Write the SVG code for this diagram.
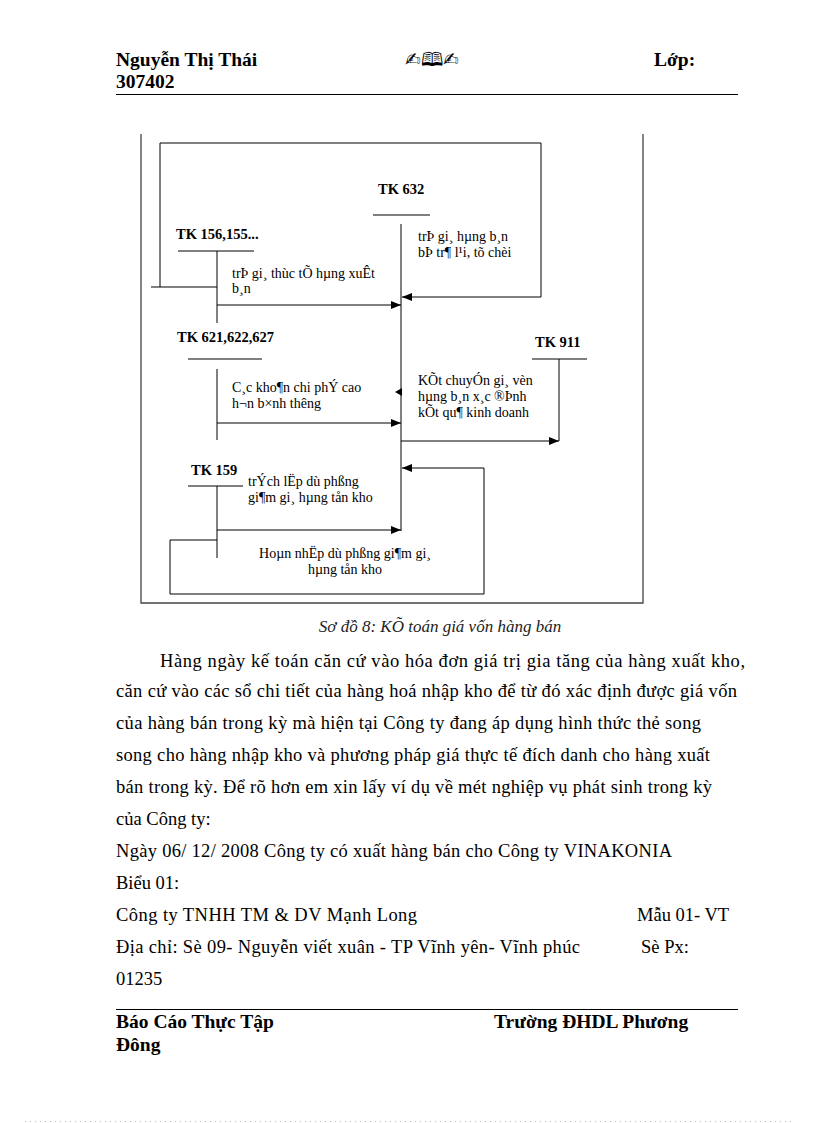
<svg xmlns="http://www.w3.org/2000/svg" width="816" height="1123" viewBox="0 0 816 1123">
<defs>
<marker id="ah" viewBox="0 0 10 8" refX="10" refY="4" markerWidth="10" markerHeight="8" markerUnits="userSpaceOnUse" orient="auto">
<path d="M0,0 L10,4 L0,8 z" fill="#000"/>
</marker>
<style>
.ln{fill:none;stroke:#000;stroke-width:1}
.fr{fill:none;stroke:#444;stroke-width:1.3}
.lb{font-family:"Liberation Serif",serif;font-weight:bold;font-size:14.5px;fill:#000}
.tx{font-family:"Liberation Serif",serif;font-size:14px;fill:#000}
.hd{font-family:"Liberation Serif",serif;font-weight:bold;font-size:19.5px;fill:#000}
.bd{font-family:"Liberation Serif",serif;font-size:18.5px;fill:#000}
.cap{font-family:"Liberation Serif",serif;font-style:italic;font-size:17px;fill:#222}
</style>
</defs>
<rect width="816" height="1123" fill="#fff"/>

<g id="header">
<text class="hd" x="116" y="66">Nguyễn Thị Thái</text>
<text class="hd" x="116" y="88">307402</text>
<text x="432" y="66" text-anchor="middle" font-family="DejaVu Sans,sans-serif" font-size="19" fill="#000">✍🕮✍</text>
<text class="hd" x="654" y="66">Lớp:</text>
<line x1="116" y1="94.5" x2="738" y2="94.5" stroke="#000" stroke-width="1"/>
</g>

<g id="frame">
<path class="fr" d="M141,134 V603 H643 V134"/>
</g>

<g id="connectors">
<line class="ln" x1="151" y1="287" x2="217" y2="287"/>
<path class="ln" d="M160,287 V143 H541 V297 H402" marker-end="url(#ah)"/>
<line class="ln" x1="217" y1="305" x2="401" y2="305" marker-end="url(#ah)"/>
<line class="ln" x1="217" y1="423" x2="401" y2="423" marker-end="url(#ah)"/>
<line class="ln" x1="401" y1="441" x2="559" y2="441" marker-end="url(#ah)"/>
<line class="ln" x1="217" y1="530" x2="401" y2="530" marker-end="url(#ah)"/>
<path class="ln" d="M217,540 H170 V594 H484 V468 H402" marker-end="url(#ah)"/>
<path d="M395,392 L402,388 L402,396 z" fill="#000"/>
</g>

<g id="tk632">
<text class="lb" x="378" y="194">TK 632</text>
<line class="ln" x1="373" y1="215" x2="430" y2="215"/>
<line class="ln" x1="401" y1="224" x2="401" y2="531"/>
<text class="tx" x="418" y="241">trÞ gi¸ hµng b¸n</text>
<text class="tx" x="418" y="257">bÞ tr¶ l¹i, tõ chèi</text>
</g>

<g id="tk156">
<text class="lb" x="176" y="239">TK 156,155...</text>
<line class="ln" x1="178" y1="251" x2="254" y2="251"/>
<line class="ln" x1="217" y1="251" x2="217" y2="323"/>
<text class="tx" x="232" y="278">trÞ gi¸ thùc tÕ hµng xuÊt</text>
<text class="tx" x="232" y="293">b¸n</text>
</g>

<g id="tk621">
<text class="lb" x="177" y="342">TK 621,622,627</text>
<line class="ln" x1="188" y1="359" x2="262" y2="359"/>
<line class="ln" x1="217" y1="369" x2="217" y2="440"/>
<text class="tx" x="232" y="392">C¸c kho¶n chi phÝ cao</text>
<text class="tx" x="232" y="408">h¬n b×nh thêng</text>
</g>

<g id="tk911">
<text class="lb" x="535" y="347">TK 911</text>
<line class="ln" x1="532" y1="359" x2="587" y2="359"/>
<line class="ln" x1="559" y1="359" x2="559" y2="441"/>
<text class="tx" x="418" y="385">KÕt chuyÓn gi¸ vèn</text>
<text class="tx" x="418" y="401">hµng b¸n x¸c ®Þnh</text>
<text class="tx" x="418" y="417">kÕt qu¶ kinh doanh</text>
</g>

<g id="tk159">
<text class="lb" x="191" y="475">TK 159</text>
<line class="ln" x1="188" y1="486" x2="243" y2="486"/>
<line class="ln" x1="217" y1="486" x2="217" y2="558"/>
<text class="tx" x="248" y="486">trÝch lËp dù phßng</text>
<text class="tx" x="248" y="502">gi¶m gi¸ hµng tån kho</text>
<text class="tx" x="345" y="558" text-anchor="middle">Hoµn nhËp dù phßng gi¶m gi¸</text>
<text class="tx" x="345" y="574" text-anchor="middle">hµng tån kho</text>
</g>

<g id="body">
<text class="cap" x="440" y="632" text-anchor="middle">Sơ đồ 8: KÕ toán giá vốn hàng bán</text>
<text class="bd" x="160" y="667" textLength="585" lengthAdjust="spacing">Hàng ngày kế toán căn cứ vào hóa đơn giá trị gia tăng của hàng xuất kho,</text>
<text class="bd" x="116" y="697" textLength="621" lengthAdjust="spacing">căn cứ vào các sổ chi tiết của hàng hoá nhập kho để từ đó xác định được giá vốn</text>
<text class="bd" x="116" y="729" textLength="585" lengthAdjust="spacing">của hàng bán trong kỳ mà hiện tại Công ty đang áp dụng hình thức thẻ song</text>
<text class="bd" x="116" y="761" textLength="594" lengthAdjust="spacing">song cho hàng nhập kho và phương pháp giá thực tế đích danh cho hàng xuất</text>
<text class="bd" x="116" y="793" textLength="596" lengthAdjust="spacing">bán trong kỳ. Để rõ hơn em xin lấy ví dụ về mét nghiệp vụ phát sinh trong kỳ</text>
<text class="bd" x="116" y="825">của Công ty:</text>
<text class="bd" x="116" y="857" textLength="556" lengthAdjust="spacing">Ngày 06/ 12/ 2008 Công ty có xuất hàng bán cho Công ty VINAKONIA</text>
<text class="bd" x="116" y="889">Biểu 01:</text>
<text class="bd" x="116" y="921" textLength="301" lengthAdjust="spacing">Công ty TNHH TM &amp; DV Mạnh Long</text>
<text class="bd" x="637" y="921">Mẫu 01- VT</text>
<text class="bd" x="116" y="953" textLength="464" lengthAdjust="spacing">Địa chỉ: Sè 09- Nguyễn viết xuân - TP Vĩnh yên- Vĩnh phúc</text>
<text class="bd" x="641" y="953">Sè Px:</text>
<text class="bd" x="116" y="985">01235</text>
</g>

<g id="footer">
<line x1="116" y1="1009.5" x2="738" y2="1009.5" stroke="#000" stroke-width="1"/>
<text class="hd" x="116" y="1028">Báo Cáo Thực Tập</text>
<text class="hd" x="116" y="1051">Đông</text>
<text class="hd" x="494" y="1028">Trường ĐHDL Phương</text>
<line x1="25" y1="1121.5" x2="795" y2="1121.5" stroke="#bbb" stroke-width="1" stroke-dasharray="1,4"/>
</g>
</svg>
